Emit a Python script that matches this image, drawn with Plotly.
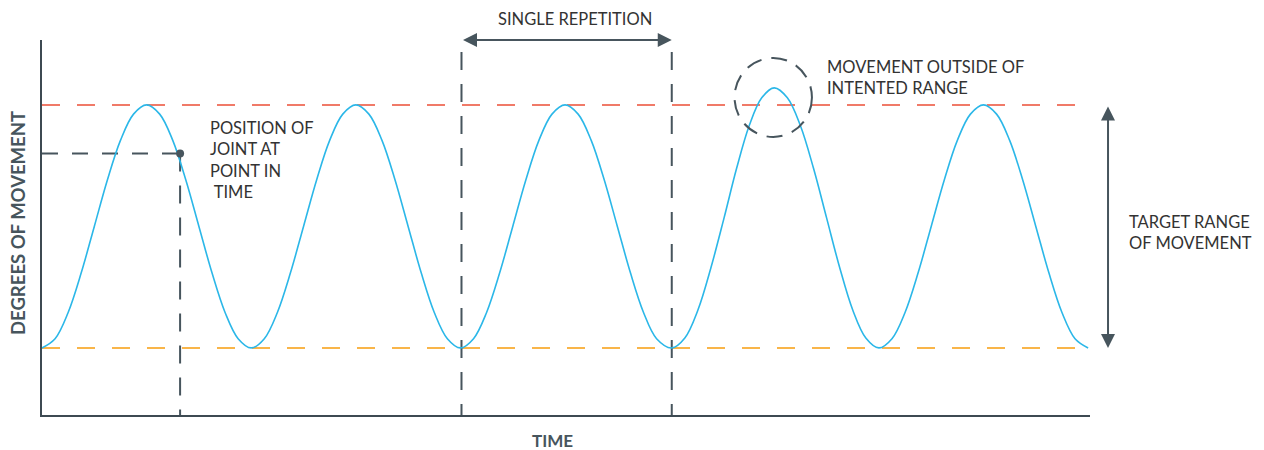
import plotly.graph_objects as go

# ---- data ----
time = [0.0000, 0.0625, 0.1250, 0.1875, 0.2500, 0.3125, 0.3750, 0.4375,
        0.5000, 0.5625, 0.6250, 0.6875, 0.7500, 0.8125, 0.8750, 0.9375,
        1.0000, 1.0625, 1.1250, 1.1875, 1.2500, 1.3125, 1.3750, 1.4375,
        1.5000, 1.5625, 1.6250, 1.6875, 1.7500, 1.8125, 1.8750, 1.9375,
        2.0000, 2.0625, 2.1250, 2.1875, 2.2500, 2.3125, 2.3750, 2.4375,
        2.5000, 2.5625, 2.6250, 2.6875, 2.7500, 2.8125, 2.8750, 2.9375,
        3.0100, 3.0725, 3.1350, 3.1975, 3.2600, 3.3200, 3.3800, 3.4400,
        3.5000, 3.5625, 3.6250, 3.6875, 3.7500, 3.8125, 3.8750, 3.9375,
        4.0000, 4.0625, 4.1250, 4.1875, 4.2500, 4.3125, 4.3750, 4.4375,
        4.5000, 4.5625, 4.6250, 4.6875, 4.7500, 4.8125, 4.8750, 4.9375,
        5.0000]
degrees = [0, 3.8, 14.6, 30.9, 50, 69.1, 85.4, 96.2,
           100, 96.2, 85.4, 69.1, 50, 30.9, 14.6, 3.8,
           0, 3.8, 14.6, 30.9, 50, 69.1, 85.4, 96.2,
           100, 96.2, 85.4, 69.1, 50, 30.9, 14.6, 3.8,
           0, 3.8, 14.6, 30.9, 50, 69.1, 85.4, 96.2,
           100, 96.2, 85.4, 69.1, 50, 30.9, 14.6, 3.8,
           0, 4.1, 15.6, 33.1, 53.5, 73.9, 91.4, 102.9,
           107, 102.9, 91.4, 73.9, 53.5, 33.1, 15.6, 4.1,
           0, 3.8, 14.6, 30.9, 50, 69.1, 85.4, 96.2,
           100, 96.2, 85.4, 69.1, 50, 30.9, 14.6, 3.8,
           0]

target_max = 100
target_min = 0
rep_start = 2.005
rep_end = 3.01
sample_time = [0.66]
sample_degrees = [80]
overshoot_box_x = [3.31, 3.68]
overshoot_box_y = [86.8, 119.3]

X_RANGE = [0, 5.009]
Y_RANGE = [-27.6, 126.7]

CURVE = "#2bb7e8"
SLATE = "#47555d"
RED = "#f07a68"
ORANGE = "#f9b549"
TEXT = "#333333"
FONT = "Lato"
FS = 16.5

fig = go.Figure()
fig.add_trace(go.Scatter(x=time, y=degrees, mode="lines",
                         line=dict(color=CURVE, width=1.6, shape="spline", smoothing=1.0),
                         hoverinfo="skip", showlegend=False))
fig.add_trace(go.Scatter(x=sample_time, y=sample_degrees, mode="markers",
                         marker=dict(color=SLATE, size=8),
                         hoverinfo="skip", showlegend=False))

shapes = []
# target range lines
shapes.append(dict(type="line", xref="x", yref="y", x0=X_RANGE[0], x1=X_RANGE[1],
                   y0=target_max, y1=target_max, layer="below",
                   line=dict(color=RED, width=2, dash="18px,17px")))
shapes.append(dict(type="line", xref="x", yref="y", x0=X_RANGE[0], x1=X_RANGE[1],
                   y0=target_min, y1=target_min, layer="below",
                   line=dict(color=ORANGE, width=2, dash="18px,17px")))
# single repetition boundaries
for xv in (rep_start, rep_end):
    shapes.append(dict(type="line", xref="x", yref="y", x0=xv, x1=xv,
                       y0=121.8, y1=Y_RANGE[0], layer="below",
                       line=dict(color=SLATE, width=2, dash="18px,14px")))
# position-of-joint guide lines
shapes.append(dict(type="line", xref="x", yref="y", x0=X_RANGE[0], x1=sample_time[0],
                   y0=sample_degrees[0], y1=sample_degrees[0], layer="below",
                   line=dict(color=SLATE, width=2, dash="16px,14px")))
shapes.append(dict(type="line", xref="x", yref="y", x0=sample_time[0], x1=sample_time[0],
                   y0=sample_degrees[0], y1=Y_RANGE[0], layer="below",
                   line=dict(color=SLATE, width=2, dash="18px,14px")))
# dashed circle around the overshoot
shapes.append(dict(type="circle", xref="x", yref="y",
                   x0=overshoot_box_x[0], x1=overshoot_box_x[1],
                   y0=overshoot_box_y[0], y1=overshoot_box_y[1],
                   line=dict(color=SLATE, width=2, dash="16px,10px")))

annotations = []
# single repetition double arrow
annotations.append(dict(x=rep_end, y=Y_RANGE[1], xref="x", yref="y",
                        ax=rep_start, ay=0, axref="x", ayref="pixel",
                        text="", showarrow=True, arrowside="end+start",
                        arrowhead=2, arrowsize=1.4, arrowwidth=2, arrowcolor=SLATE))
annotations.append(dict(x=(rep_start + rep_end) / 2 + 0.04, y=1.056, xref="x", yref="paper",
                        text="SINGLE REPETITION", showarrow=False,
                        xanchor="center", yanchor="middle",
                        font=dict(family=FONT, size=FS, color=TEXT)))
# target range double arrow
annotations.append(dict(x=1.0172, y=target_min, xref="paper", yref="y",
                        ax=0, ay=target_max, axref="pixel", ayref="y",
                        text="", showarrow=True, arrowside="end+start",
                        arrowhead=2, arrowsize=1.4, arrowwidth=2, arrowcolor=SLATE))
annotations.append(dict(x=1.035, y=0.488, xref="paper", yref="paper",
                        text="TARGET RANGE<br>OF MOVEMENT", showarrow=False,
                        xanchor="left", yanchor="middle", align="left",
                        font=dict(family=FONT, size=FS, color=TEXT)))
annotations.append(dict(x=0.747, y=0.901, xref="paper", yref="paper",
                        text="MOVEMENT OUTSIDE OF<br>INTENTED RANGE", showarrow=False,
                        xanchor="left", yanchor="middle", align="left",
                        font=dict(family=FONT, size=FS, color=TEXT)))
annotations.append(dict(x=0.158, y=0.68, xref="paper", yref="paper",
                        text="POSITION OF<br>JOINT AT<br>POINT IN<br> TIME", showarrow=False,
                        xanchor="left", yanchor="middle", align="left",
                        font=dict(family=FONT, size=FS, color=TEXT)))
# axis titles
annotations.append(dict(x=0.487, y=-0.067, xref="paper", yref="paper",
                        text="<b>TIME</b>", showarrow=False,
                        xanchor="center", yanchor="middle",
                        font=dict(family=FONT, size=17, color=SLATE)))
annotations.append(dict(x=-0.0229, y=0.512, xref="paper", yref="paper",
                        text="<b>DEGREES OF MOVEMENT</b>", showarrow=False, textangle=-90,
                        xanchor="center", yanchor="middle",
                        font=dict(family=FONT, size=18.5, color=SLATE)))

fig.update_layout(
    width=1264, height=450,
    margin=dict(l=42, r=174, t=40, b=35),
    paper_bgcolor="white", plot_bgcolor="white",
    shapes=shapes, annotations=annotations,
    xaxis=dict(range=X_RANGE, showline=True, linecolor="#3d4a52", linewidth=2,
               showgrid=False, zeroline=False, showticklabels=False, ticks=""),
    yaxis=dict(range=Y_RANGE, showline=True, linecolor="#3d4a52", linewidth=2,
               showgrid=False, zeroline=False, showticklabels=False, ticks=""),
)

fig.write_html("out.html", config={"displayModeBar": False},
               post_script="document.body.style.margin='0';document.body.style.overflow='hidden';")
